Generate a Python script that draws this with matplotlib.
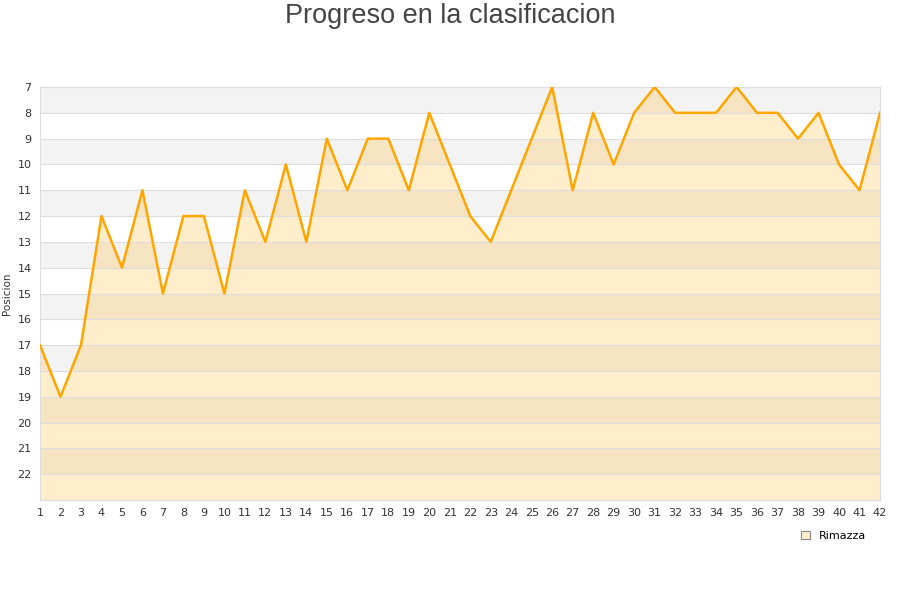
import matplotlib
matplotlib.use('Agg')
import matplotlib.pyplot as plt
from matplotlib.patches import Patch

jornadas = list(range(1, 43))
posicion = [17, 19, 17, 12, 14, 11, 15, 12, 12, 15,
            11, 13, 10, 13, 9, 11, 9, 9, 11, 8,
            10, 12, 13, 11, 9, 7, 11, 8, 10, 8,
            7, 8, 8, 8, 7, 8, 8, 9, 8, 10,
            11, 8]
y_ticks = list(range(7, 23))

fig = plt.figure(figsize=(9, 6), dpi=100)
ax = fig.add_axes([40/900, 1 - 500/600, 840/900, 413/600])

# bandas alternas
for y0 in range(7, 23, 2):
    ax.axhspan(y0, y0 + 1, color='#f3f3f3', lw=0, zorder=0)

ax.set_ylim(23, 7)
ax.set_xlim(1, 42)
ax.fill_between(jornadas, posicion, 23, color='orange', alpha=0.2, lw=0, zorder=1)
ax.plot(jornadas, posicion, color='#ffa500', lw=1.8, zorder=3)

ax.set_yticks(y_ticks)
ax.set_xticks(jornadas)
ax.grid(axis='y', color='#dddddd', lw=0.8, zorder=2)
ax.set_axisbelow(False)
ax.tick_params(length=0, labelsize=8, colors='#333333', pad=6)
for s in ax.spines.values():
    s.set_color('#dddddd')

ax.set_ylabel('Posicion', fontsize=7.5, color='#333333', labelpad=4)

fig.text(0.5, 0.995, 'Progreso en la clasificacion', ha='center', va='top',
         fontsize=19.5, color='#444444', family='Liberation Sans')

handle = Patch(facecolor='#ffecc8', edgecolor='#888888', lw=0.8)
fig.legend([handle], ['Rimazza'], loc='center', bbox_to_anchor=(0.926, 0.107),
           frameon=False, fontsize=8, handlelength=0.8, handleheight=0.8,
           handletextpad=0.8)

fig.savefig('out.png', dpi=100)
